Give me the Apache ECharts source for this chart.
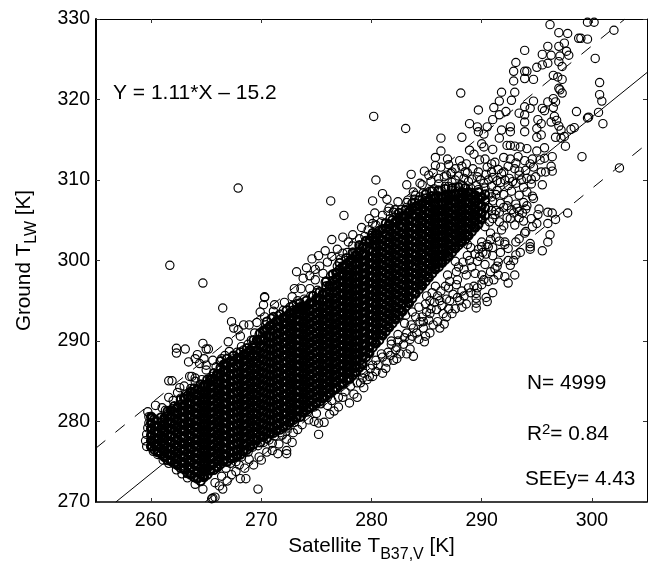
<!DOCTYPE html>
<html>
<head>
<meta charset="utf-8">
<script src="https://cdn.jsdelivr.net/npm/echarts@6/dist/echarts.min.js"></script>
<style>
html,body{margin:0;padding:0;background:#fff;}
#main{width:650px;height:563px;}
</style>
</head>
<body>
<div id="main"></div>
<script>
var xTicks = [260,270,280,290,300];
var yTicks = [270,280,290,300,310,320,330];

// regression line and the two dashed bounds, end points
var fitLine = [[256.8,270],[305,323.35]];
var upperLine = [[255,276.7],[303,330]];
var lowerLine = [[264.9,270],[305,314.5]];

// the solid black core, too dense to read one by one: one list of y per x column
var coreX = [260,260.6,261.2,261.8,262.4,263,263.6,264.2,264.8,265.4,266,266.6,267.2,267.8,268.4,269,269.6,270.2,270.8,271.4,272,272.6,273.2,273.8,274.4,275,275.6,276.2,276.8,277.4,278,278.6,279.2,279.8,280.4,281,281.6,282.2,282.8,283.4,284,284.6,285.2,285.8,286.4,287,287.6,288.2,288.8,289.4,290];
var coreY = [
[276.9,277.6,278.3,279.1,279.8,280.6],
[276.2,277.1,277.8,278.7,279.4],
[275.6,276.3,277.2,277.9,278.8,279.6,280.4],
[275.1,275.9,276.6,277.5,278.2,279.1,279.8,280.7,281.4],
[274.6,275.3,276.2,276.9,277.8,278.5,279.4,280.1,281,281.8],
[274.1,274.9,275.6,276.5,277.2,278.1,278.8,279.7,280.4,281.3,282,282.9],
[273.4,274.2,275.1,275.8,276.7,277.4,278.3,279,279.9,280.6,281.5,282.2,283.1,283.7],
[272.9,273.8,274.5,275.4,276.1,277,277.7,278.6,279.3,280.2,280.9,281.8,282.5,283.4,284],
[273.1,273.8,274.7,275.4,276.3,277,277.9,278.6,279.5,280.2,281.1,281.8,282.7,283.4,284.5],
[273.9,274.6,275.5,276.2,277.1,277.8,278.7,279.4,280.3,281,281.9,282.6,283.5,284.2,285.3],
[274.3,275.2,275.9,276.8,277.5,278.4,279.1,280,280.7,281.6,282.3,283.2,283.9,284.8,285.9],
[275.1,275.8,276.7,277.4,278.3,279,279.9,280.6,281.5,282.2,283.1,283.8,284.7,285.4,286.3,287.1],
[275.4,276.3,277,277.9,278.6,279.5,280.2,281.1,281.8,282.7,283.4,284.3,285,285.9,286.6,287.5],
[275.7,276.4,277.3,278,278.9,279.6,280.5,281.2,282.1,282.8,283.7,284.4,285.3,286,286.9,287.9],
[276.3,277.2,277.9,278.8,279.5,280.4,281.1,282,282.7,283.6,284.3,285.2,285.9,286.8,287.5,288.3],
[276.9,277.6,278.5,279.2,280.1,280.8,281.7,282.4,283.3,284,284.9,285.6,286.5,287.2,288.1,288.9],
[277.7,278.6,279.3,280.2,280.9,281.8,282.5,283.4,284.1,285,285.7,286.6,287.3,288.2,288.9,290.1],
[278.1,278.8,279.7,280.4,281.3,282,282.9,283.6,284.5,285.2,286.1,286.8,287.7,288.4,289.3,290.2,291.3],
[278.5,279.4,280.1,281,281.7,282.6,283.3,284.2,284.9,285.8,286.5,287.4,288.1,289,289.7,290.6,291.9],
[278.9,279.6,280.5,281.2,282.1,282.8,283.7,284.4,285.3,286,286.9,287.6,288.5,289.2,290.1,290.8,291.7,292.5],
[279.3,280.2,280.9,281.8,282.5,283.4,284.1,285,285.7,286.6,287.3,288.2,288.9,289.8,290.5,291.4,292.1,292.9],
[279.9,280.6,281.5,282.2,283.1,283.8,284.7,285.4,286.3,287,287.9,288.6,289.5,290.2,291.1,291.8,292.7,293.5],
[280.5,281.4,282.1,283,283.7,284.6,285.3,286.2,286.9,287.8,288.5,289.4,290.1,291,291.7,292.6,293.3,293.9],
[281.1,281.8,282.7,283.4,284.3,285,285.9,286.6,287.5,288.2,289.1,289.8,290.7,291.4,292.3,293,293.9,294.3],
[281.7,282.6,283.3,284.2,284.9,285.8,286.5,287.4,288.1,289,289.7,290.6,291.3,292.2,292.9,293.8,294.7],
[282.3,283,283.9,284.6,285.5,286.2,287.1,287.8,288.7,289.4,290.3,291,291.9,292.6,293.5,294.2,295.3],
[282.9,283.8,284.5,285.4,286.1,287,287.7,288.6,289.3,290.2,290.9,291.8,292.5,293.4,294.1,295,295.9],
[283.5,284.2,285.1,285.8,286.7,287.4,288.3,289,289.9,290.6,291.5,292.2,293.1,293.8,294.7,295.4,296.9],
[284.1,285,285.7,286.6,287.3,288.2,288.9,289.8,290.5,291.4,292.1,293,293.7,294.6,295.3,296.2,296.9,297.8,298.5],
[284.7,285.4,286.3,287,287.9,288.6,289.5,290.2,291.1,291.8,292.7,293.4,294.3,295,295.9,296.6,297.5,298.2,299.3],
[285.3,286.2,286.9,287.8,288.5,289.4,290.1,291,291.7,292.6,293.3,294.2,294.9,295.8,296.5,297.4,298.1,299,299.9],
[286.1,286.8,287.7,288.4,289.3,290,290.9,291.6,292.5,293.2,294.1,294.8,295.7,296.4,297.3,298,298.9,299.6,300.7],
[287.1,288,288.7,289.6,290.3,291.2,291.9,292.8,293.5,294.4,295.1,296,296.7,297.6,298.3,299.2,299.9,300.8,301.7],
[288.5,289.2,290.1,290.8,291.7,292.4,293.3,294,294.9,295.6,296.5,297.2,298.1,298.8,299.7,300.4,301.3,302.5],
[289.7,290.6,291.3,292.2,292.9,293.8,294.5,295.4,296.1,297,297.7,298.6,299.3,300.2,300.9,301.8,302.5,303.3],
[290.7,291.4,292.3,293,293.9,294.6,295.5,296.2,297.1,297.8,298.7,299.4,300.3,301,301.9,302.6,303.9],
[291.7,292.6,293.3,294.2,294.9,295.8,296.5,297.4,298.1,299,299.7,300.6,301.3,302.2,302.9,303.8,304.5],
[292.7,293.4,294.3,295,295.9,296.6,297.5,298.2,299.1,299.8,300.7,301.4,302.3,303,303.9,304.9],
[293.7,294.6,295.3,296.2,296.9,297.8,298.5,299.4,300.1,301,301.7,302.6,303.3,304.2,305.5],
[294.7,295.4,296.3,297,297.9,298.6,299.5,300.2,301.1,301.8,302.7,303.4,304.3,305,306.1],
[295.9,296.8,297.5,298.4,299.1,300,300.7,301.6,302.3,303.2,303.9,304.8,305.5,306.7],
[296.9,297.6,298.5,299.2,300.1,300.8,301.7,302.4,303.3,304,304.9,305.6,306.5,307.1],
[297.9,298.8,299.5,300.4,301.1,302,302.7,303.6,304.3,305.2,305.9,306.8,307.5],
[298.9,299.6,300.5,301.2,302.1,302.8,303.7,304.4,305.3,306,306.9,307.9],
[299.7,300.6,301.3,302.2,302.9,303.8,304.5,305.4,306.1,307,307.9],
[300.5,301.2,302.1,302.8,303.7,304.4,305.3,306,306.9,307.6,308.1],
[301.5,302.4,303.1,304,304.7,305.6,306.3,307.2,308.3],
[302.3,303,303.9,304.6,305.5,306.2,307.1,307.8,308.5],
[303.1,304,304.7,305.6,306.3,307.2,308.5],
[304.1,304.8,305.7,306.4,307.3,308.1],
[305.1,305.9,306.8,307.9]
];

// second pass through the core, in between the columns above
var coreX2 = [260.3,260.9,261.5,262.1,262.7,263.3,263.9,264.5,265.1,265.7,266.3,266.9,267.5,268.1,268.7,269.3,269.9,270.5,271.1,271.7,272.3,272.9,273.5,274.1,274.7,275.3,275.9,276.5,277.1,277.7,278.3,278.9,279.5,280.1,280.7,281.3,281.9,282.5,283.1,283.7,284.3,284.9,285.5,286.1,286.7,287.3,287.9,288.5,289.1,289.7,290.3];
var coreY2 = [
[276.5,277.3,278,278.8,279.5,280.3],
[276,276.7,277.5,278.3,279.1,279.9,280.5],
[275.2,276,276.8,277.6,278.4,279.2,279.9,280.7,281.3],
[274.8,275.7,276.4,277.2,278,278.9,279.6,280.4,281.2,281.9],
[274.2,275,275.8,276.6,277.4,278.2,279,279.8,280.5,281.3,282.1,282.7],
[273.6,274.5,275.3,276.1,276.9,277.6,278.5,279.3,280,280.9,281.6,282.4,283.2],
[273.1,273.9,274.7,275.5,276.3,277.1,277.9,278.7,279.5,280.3,281.1,281.9,282.7,283.5,284.1],
[272.6,273.4,274.2,275,275.8,276.6,277.4,278.2,279,279.8,280.6,281.4,282.2,283,283.8,284.6],
[273.4,274.2,275,275.8,276.6,277.4,278.2,279,279.8,280.6,281.4,282.2,283,283.8,284.6,285.2],
[274,274.8,275.6,276.4,277.2,278,278.8,279.6,280.4,281.2,282,282.8,283.6,284.4,285.2,286],
[274.7,275.5,276.3,277.1,277.9,278.7,279.5,280.3,281.1,281.9,282.7,283.5,284.3,285.1,285.9,286.7,287.5],
[275,275.8,276.6,277.4,278.2,279,279.8,280.6,281.4,282.2,283,283.8,284.6,285.4,286.2,287,287.8],
[275.5,276.3,277.1,277.9,278.7,279.5,280.3,281.1,281.9,282.7,283.5,284.3,285.1,285.9,286.7,287.5,288.2],
[275.9,276.7,277.5,278.3,279.1,279.9,280.7,281.5,282.3,283.1,283.9,284.7,285.5,286.3,287.1,287.9,288.6],
[276.5,277.3,278.1,278.9,279.7,280.5,281.3,282.1,282.9,283.7,284.5,285.3,286.1,286.9,287.7,288.5,289.1],
[277.2,278,278.8,279.6,280.4,281.2,282,282.8,283.6,284.4,285.2,286,286.8,287.6,288.4,289.2,290.1],
[277.4,278.2,279,279.8,280.6,281.4,282.2,283,283.8,284.6,285.4,286.2,287,287.8,288.6,289.4,290.2,291],
[277.9,278.7,279.5,280.3,281.1,281.9,282.7,283.5,284.3,285.1,285.9,286.7,287.5,288.3,289.1,289.9,290.7,291.5,292.4],
[278.6,279.4,280.2,281,281.8,282.6,283.4,284.2,285,285.8,286.6,287.4,288.2,289,289.8,290.6,291.4,292.2,293],
[279,279.8,280.6,281.4,282.2,283,283.8,284.6,285.4,286.2,287,287.8,288.6,289.4,290.2,291,291.8,292.6,293.3],
[279.5,280.3,281.1,281.9,282.7,283.5,284.3,285.1,285.9,286.7,287.5,288.3,289.1,289.9,290.7,291.5,292.3,293.1,293.8],
[280.2,281,281.8,282.6,283.4,284.2,285,285.8,286.6,287.4,288.2,289,289.8,290.6,291.4,292.2,293,293.8,294.4],
[280.6,281.4,282.2,283,283.8,284.6,285.4,286.2,287,287.8,288.6,289.4,290.2,291,291.8,292.6,293.4,294.2,294.7],
[281.4,282.2,283,283.8,284.6,285.4,286.2,287,287.8,288.6,289.4,290.2,291,291.8,292.6,293.4,294.2,295],
[282,282.8,283.6,284.4,285.2,286,286.8,287.6,288.4,289.2,290,290.8,291.6,292.4,293.2,294,294.8,295.6],
[282.5,283.3,284.1,284.9,285.7,286.5,287.3,288.1,288.9,289.7,290.5,291.3,292.1,292.9,293.7,294.5,295.3,296.1],
[283.2,284,284.8,285.6,286.4,287.2,288,288.8,289.6,290.4,291.2,292,292.8,293.6,294.4,295.2,296,296.8,297.4],
[283.9,284.7,285.5,286.3,287.1,287.9,288.7,289.5,290.3,291.1,291.9,292.7,293.5,294.3,295.1,295.9,296.7,297.5,298.3],
[284.5,285.3,286.1,286.9,287.7,288.5,289.3,290.1,290.9,291.7,292.5,293.3,294.1,294.9,295.7,296.5,297.3,298.1,298.9,299.7],
[285.1,285.9,286.7,287.5,288.3,289.1,289.9,290.7,291.5,292.3,293.1,293.9,294.7,295.5,296.3,297.1,297.9,298.7,299.5,300.3],
[285.8,286.6,287.4,288.2,289,289.8,290.6,291.4,292.2,293,293.8,294.6,295.4,296.2,297,297.8,298.6,299.4,300.2,301],
[286.7,287.5,288.3,289.1,289.9,290.7,291.5,292.3,293.1,293.9,294.7,295.5,296.3,297.1,297.9,298.7,299.5,300.3,301.1,301.9],
[288,288.8,289.6,290.4,291.2,292,292.8,293.6,294.4,295.2,296,296.8,297.6,298.4,299.2,300,300.8,301.6,302.4],
[289.2,290,290.8,291.6,292.4,293.2,294,294.8,295.6,296.4,297.2,298,298.8,299.6,300.4,301.2,302,302.8,303.4],
[290.1,290.9,291.7,292.5,293.3,294.1,294.9,295.7,296.5,297.3,298.1,298.9,299.7,300.5,301.3,302.1,302.9,303.7],
[291.2,292,292.8,293.6,294.4,295.2,296,296.8,297.6,298.4,299.2,300,300.8,301.6,302.4,303.2,304,304.6],
[292.2,293,293.8,294.6,295.4,296.2,297,297.8,298.6,299.4,300.2,301,301.8,302.6,303.4,304.2,305],
[293.2,294,294.8,295.6,296.4,297.2,298,298.8,299.6,300.4,301.2,302,302.8,303.6,304.4,305.2,305.9],
[294.3,295.1,295.9,296.7,297.5,298.3,299.1,299.9,300.7,301.5,302.3,303.1,303.9,304.7,305.5,306.3],
[295.3,296.1,296.9,297.7,298.5,299.3,300.1,300.9,301.7,302.5,303.3,304.1,304.9,305.7,306.5,307.1],
[296.4,297.2,298,298.8,299.6,300.4,301.2,302,302.8,303.6,304.4,305.2,306,306.8,307.5],
[297.4,298.2,299,299.8,300.6,301.4,302.2,303,303.8,304.6,305.4,306.2,307,307.7,308.2],
[298.4,299.2,300,300.8,301.6,302.4,303.2,304,304.8,305.6,306.4,307.2,308,308.6],
[299.2,300,300.8,301.6,302.4,303.2,304,304.8,305.6,306.4,307.2,308,308.7],
[300.1,300.9,301.7,302.5,303.3,304.1,304.9,305.7,306.5,307.3,308.1,308.9],
[301,301.8,302.6,303.4,304.2,305,305.8,306.6,307.4,308.2,309],
[301.9,302.7,303.5,304.3,305.1,305.9,306.7,307.5,308.3,309.1],
[302.6,303.4,304.2,305,305.8,306.6,307.4,308.2,309],
[303.6,304.4,305.2,306,306.8,307.6,308.4],
[304.5,305.3,306.1,306.9,307.7,308.5],
[305.6,306.5,307.4,308.2]
];

// single circles readable around the core
var ringPoints = [
[267.9,309],[280.2,317.9],[283.1,316.4],[261.7,299.4],[264.7,297.2],[266.5,294.1],[302.5,311.5],[299.1,312.9],
[296.2,329.3],[297,328.3],[297.8,328.2],[299.6,329.6],[300.2,329.6],[302,328.6],[298.8,327.6],[299,327.6],[299.6,327.5],
[293.9,326.1],[296,326.6],[297,326.6],[295.5,325.6],[296.3,325.5],[297.1,325.4],[297.7,326],[297.9,325.5],[297.5,327],[300.3,325.1],
[293.1,324.6],[292.9,323.5],[293.9,323.5],[294.1,323.5],[295,324],[295.5,324.3],[296,324.5],[297,324.7],[297.3,324.1],
[292.9,322.3],[293.9,322.6],[294.7,322.5],[296.5,323],[296.9,322.8],[297.3,322.5],[300.7,322.1],[297,321.4],[297.1,321.2],[297.3,320.8],
[291.8,320.9],[293,320.9],[288.1,320.8],[300.7,320.6],[300.9,319.8],[291.6,319.8],[292.7,319.9],[294.7,319.8],[296,319.7],[296.5,320.1],[296.7,319.7],
[298.6,318.5],[300.6,318.4],[299.6,317.7],[299.7,317.8],[301,317],[291.1,319],[289.7,318.7],[292.2,318.5],[291.6,318.1],[291,317.5],
[293.4,318.3],[293.9,319.1],[294.4,318.9],[293.9,318.1],[293.9,317.2],[295.5,318.9],[295.7,318.6],[296.5,319],[296.6,317.9],[296.3,317.2],[296.8,317.4],
[295.1,317.5],[295.4,317],[295,316.4],[295.4,315.6],[297,316.7],[297.2,316.2],[298.1,316.3],[298.4,316.5],[297.5,315.4],[297.2,315.2],[296.7,315.3],[297.6,314.2],
[288.9,317],[289.6,316.6],[289.7,316],[290.5,316.6],[290.2,315.7],[291.8,316.2],[292.6,316.6],[292.6,316],[293.9,316],[295,315.3],[288.2,315.3],[286.3,315.2],[291.6,315.2],
[290,314.5],[290.2,314.1],[286.3,313.6],[288.9,313.7],[289.3,313.2],[291,313.8],[292.3,314.3],[292.6,314.3],[293,314.2],[293.5,314.1],[294.1,313.9],[295,313.6],[295.7,314],[296.4,312.9],
[285.8,312.8],[286.9,312.6],[288,312.4],[289.8,312.5],[290.3,312.6],[291.2,312.2],[292,312.8],[292.6,312.6],[293.3,312.9],[293.9,312.4],[294.6,312.6],[295.3,312.5],[295.7,312.7],
[285.8,311.8],[286.3,311.6],[287,311.9],[287.6,311.4],[288.2,311.7],[289.2,311.4],[290.5,311.6],[291.5,311.3],[292.4,311.7],[293,311.4],[294,311.2],[294.7,311.6],[295.4,311],[295.8,311],[296.4,311.1],[296.3,311.7],
[285.6,310.9],[284.8,311.1],[285.2,310.6],[286.6,310.4],[287.2,310.8],[287.9,310.5],[288.7,310.9],[289.6,310.4],[290.4,310.7],[291,310.3],[291.8,310.8],[292.5,310.2],[293.4,310.6],[294.1,310.2],[294.9,310.4],
[283.6,310.7],[280.4,310],[283.2,309.4],[284.4,309.6],[284.6,309.4],[285.4,309.8],[286.1,309.5],[286.7,309.2],[287.3,309.7],[288.1,309.4],[288.8,309.8],[289.5,309.3],[290.2,309.6],[290.9,309.2],[291.7,309.7],[292.4,309.3],[293.1,309.6],[293.8,309.1],[294.5,309.5],[295.5,309.4],
[281,308.3],[283.8,308.5],[284,308.1],[284.7,308.4],[285.3,308.6],[290.7,308.4],[291.4,308.7],[292,308.2],[292.7,308.6],[293.4,308.1],[294.1,308.5],[294.6,308],
[276.3,307.4],[280.1,307.4],[281.4,307.6],[282.4,307.3],[283.3,307.5],[283.9,307.2],[291,307.4],[291.7,307.1],[292.4,307.5],[293.1,307],[293.8,307.2],[294.7,307.7],[294.1,306.8],
[277.5,305.6],[279.8,305.2],[280.3,305.9],[281.6,306.5],[282.1,306.3],[282.7,306.3],[283.2,306.6],[281,305.6],[281.7,305.2],[282.3,305.7],[290.6,306.6],[291.3,306.2],[292,306.6],[292.7,306.3],[293.4,306.1],[294,306.4],[293.7,305.9],
[295.2,306.4],[296,306],[296.4,305.9],[296.7,305.1],[297.8,305.9],[291,305.2],[291.6,304.8],[292.3,305.3],[292,304.3],
[279.7,303.8],[280.4,304.4],[280,303.1],[279.1,304.1],[278.3,303.2],[278.9,302.7],[279.5,302.5],[280.4,302.9],
[276.4,302.6],[277.4,302.9],[277.9,302.3],[278.3,301.8],[276.9,301.4],[277.4,300.9],[276.4,300.5],[275.8,301.2],[275.2,300.6],[276,299.8],[275.3,299.3],[274.6,300.2],[274.9,298.9],[274.1,299.1],[274.4,298.1],[275.6,298.4],[274.9,297.6],[273.8,297.8],[273.2,298.6],
[273,296.5],[273.6,296.5],[274.4,296.5],[272.8,295.5],[273.3,295],[271.2,294.5],[272.1,294.8],[270.3,295.5],[270.3,295.4],[270.2,294.5],[269.9,293.6],[270.3,293],[271.1,293.7],[269.6,292.3],
[262.3,289.1],[262.3,288.5],[263.1,289],[264.7,289.7],[265,289],[265.2,289],[267,289.9],[267.1,288.7],[268.2,289.3],[268.4,288.9],[267.3,292.4],[267.5,291.6],[268.4,292],[268.9,292],[267.9,291.4],[268.1,290.6],[269.1,290.1],[269.4,291],
[261.6,285.05],[261.9,285.05],[262.6,284.2],[263.5,285.6],[263.7,285.6],[264,285.4],[264,285],[263.4,287.4],[264,287.8],[264.4,287.2],[264.8,287.8],[265,287],[265.6,287.6],[265,286.4],[265.5,285.6],[265.9,286.8],[266.4,287.8],[266.7,288.2],[264.2,288.3],
[261.6,283],[262,282.6],[262.7,282.9],[263.2,283.4],[263.6,284.1],[260.4,282],[261,281.7],[259.7,281.2],[259.8,280.6],[259.8,279.8],[259.7,279.2],[259.6,278.4],[259.5,277.6],[259.6,276.9],[260.2,276.3],[260.6,275.9],
[261.1,275.2],[261.6,274.8],[262.3,274],[262.8,273.5],[263.3,273],[264,272.2],[264.7,271.6],[265.6,270.5],[265.8,270.6],[265.5,270.4],[266.5,271.6],[266.2,272],[265.8,272.4],[266.9,272.6],[266.4,273.2],[267.3,273.4],[268.1,272.9],[268.6,272.9],[267.7,273.8],[269.7,271.6],
[268,274.6],[268.5,274.2],[268.9,275.3],[269.3,274.6],[269.8,275.6],[270,275.2],[270.5,276.2],[271,276.4],[271.5,276],[271,277.3],[271.6,277.2],[272.3,276],[272.3,276.4],[272.8,277.4],[272.3,277.8],[271.9,278.3],[272.9,278.6],[273.3,279],[273.7,279.6],[274.3,280.2],[274.8,280],[275.2,278.4],[275.2,279.8],[275.7,279.9],[275,281],[276.2,280.9],[276.6,281.3],[277,281.8],[276,282],[277.4,283],[278,282.3],[278.7,283],[278.4,283.4],
[279.3,284.2],[279,284.8],[279.6,285.2],[280.1,285.6],[279.8,285.6],[280.4,286.2],[281.3,286.6],[281,286],[280.6,287],[281.4,287.4],[280.1,287],[279.3,286],[282.3,287.8],[282,287.6],[282.6,288.4],[283.8,288.1],[283.2,288.4],[283.5,289],[282.3,289.2],[281.5,288.6],[280.9,288.4],
[284.8,289.9],[284.3,290.2],[283.7,290.6],[284.9,290.6],[283,290.4],[282.4,290.8],[281.8,290],[285.3,291],[284.7,291.6],[286.6,292.1],[286,292.4],[285.6,292],[286.2,291.6],[285.2,292.6],[284.4,292.4],[283.6,292],[283,292.2],[284,293],[285,293.6],
[289.5,294.1],[289.5,294.7],[289.5,295.3],[289.5,295.9],[290.5,294.9],[290.4,295.4],[291,296],[288.6,294.6],[288.2,294.2],[288,295],[287.3,293.4],[287,294],[287.6,294],[286.8,293],[286.4,294.4],[285.7,294.8],[285.3,295],[285,295.6],[286,295.6],[286.8,295.2],[287.4,295.8],[288.2,296.2],[288.8,296.6],[287.7,297],[286.7,296.8],[285.8,296.8],
[289.3,296.8],[290,297],[290.6,297.4],[291.1,297.6],[291.5,298.2],[292.4,297.2],[292.1,298],[290,298.2],[289.4,298.4],[288.6,298.2],[287.7,298.6],[286.9,298.2],[291.2,299],[291.5,299.8],[292.6,299.4],[293,298.2],[292.4,300],[293.1,300.7],[291,300.6],[290.3,299.5],[289.6,299.9],[288.9,300],[288.3,299.8],[287.6,299.9],
[290.1,301],[290.6,301.7],[289.7,301.4],[289,301.6],[288.7,302],[291.3,302.9],[290.5,302],[290,302.3],[292.1,302.3],[292.1,302],[293.1,302.3],[293.5,301],[294.4,302.1],[294.4,301.7],[294.4,301.4],[295.5,301.2],[296,302.3],[296.2,303.2],
[294,303.6],[293.9,303.4],[295,304.6],[294.6,304.2],[296,304.6],[293.4,302.7],[291.8,303.8],[290.8,303.4],[290.3,304.2],[290.7,304.8],[293,304.4],
// fringe above the core
[275.1,296.3],[275.8,297.3],[276.3,298.1],[276.9,299.3],[277.2,300.2],[277.8,301],[278.4,300.9],[278.9,301.6],[279.4,303],[280.1,304.6],[280.9,304.8],[281.5,306.1],[282,306],[282.6,305.4],[283.2,307.2],[283.9,307.6],[284.4,307.9],[285,308.4],[285.7,308.9],[286.3,308.7],[287,309.2],[287.6,309.1],[288.3,309.3],[289,309],[289.7,308.8],[290.3,309],[290.9,307.9],[291.3,308.2],
[286.1,310.2],[286.8,310.6],[287.6,310],[288.4,310.2],[289.1,310.1],[289.9,310],[290.6,310],[291.4,309.9],[292.1,310],[292.8,309.8],[293.6,310],[294.5,310.1],[287.3,311],[288.5,311],[289.7,311],[290.9,311],[292,311],[293.4,311.1],[288.6,312],[290.9,312],[293.1,312.1],[294.4,312],
[291.6,306],[292.3,306.8],[292.9,305.9],[293.2,306.5],[291.2,305.7],[290.9,306.2],[292.6,305.2],[293.4,305.3],[293.8,304.9],[294.5,305.2],[295.1,305.7],
[265.9,285.6],[266.3,286.4],[266.9,287.2],[267.4,288.1],[267.8,288.6],[268.3,288.2],[268.8,289.6],[269.2,289.4],[269.8,290.8],[270.4,292],[270.9,292.8],[271.5,293.1],[272,293.8],[272.6,294.2],[273.2,294.6],[273.9,295.2],[274.5,295.6],[275,296],[265.2,284.8],[264.6,285.2],[263,284.4],[262.4,283.6],[261.3,281.4],[266,285],[267.2,286.6],
// fringe below the core
[276.4,282.6],[277,283],[277.6,283.7],[278.1,284.4],[278.7,284.8],[279.2,285.4],[279.9,286.6],[280.4,287.6],[281,288],[281.7,288.2],[282.2,288.9],[282.9,289.6],[283.5,290.2],[284.1,291],[284.7,292.4],[285.3,293.4],[285.9,293.9],[286.5,293.4],[287.1,295],[287.8,295.4],[288.4,295.6],[289,296],[289.6,296.6],[290.2,297.6],[290.8,298.6],[291.4,299.3],
[281.8,289.6],[282.4,290],[283.2,291],[283.8,291.6],[284.6,293],[285.4,294],[286.2,295],[287,296.6],[287.8,297.6],[288.4,298.9],[289.1,299.2],[289.8,300.5],[290.4,300.8],[291,301.6],[291.7,301],[292.4,301.5],[292.9,300],
[283.1,293.2],[283.7,293.6],[284.3,294.2],[284.9,294.6],[285.5,296],[286.3,296.2],[287.1,297.4],[287.9,299.2],[288.7,300.6],[289.4,300.8],[290,301.7],[290.8,302.6],[291.6,302.4],
[266.8,274.2],[267.2,274.8],[267.7,275],[268.2,275.6],[268.8,276.2],[269.2,276.8],[269.7,277],[270.2,277.4],[270.7,277.7],[271.2,278.2],[271.7,278.6],[272.4,279.2],[273,279.9],[273.6,280.6],[274.2,281.2],[274.8,281.8],[275.4,282.2],[276,283]
];

var option = {
    animation: false,
    backgroundColor: '#fff',
    textStyle: { fontFamily: 'Liberation Sans' },
    grid: { left: 96, right: 3, top: 19, bottom: 61, outerBoundsMode: 'none' },
    xAxis: [{
        type: 'value', min: 255, max: 305, splitLine: { show: false },
        name: '{a|Satellite T}{s|B37,V}{a| [K]}',
        nameLocation: 'middle', nameGap: 28,
        nameTextStyle: { rich: {
            a: { fontSize: 20.7, color: '#000', fontFamily: 'Liberation Sans' },
            s: { fontSize: 16, color: '#000', fontFamily: 'Liberation Sans', padding: [16,0,0,0] }
        } },
        axisLine: { onZero: false, lineStyle: { color: '#000', width: 1.5 } },
        axisTick: { inside: true, length: 4, customValues: xTicks, lineStyle: { color: '#333' } },
        axisLabel: { customValues: xTicks, fontSize: 19.5, color: '#000', margin: 9 }
    }, {
        type: 'value', position: 'top', min: 255, max: 305, splitLine: { show: false },
        axisLine: { onZero: false, lineStyle: { color: '#000', width: 1 } },
        axisTick: { inside: true, length: 4, customValues: xTicks, lineStyle: { color: '#333' } },
        axisLabel: { show: false }
    }],
    yAxis: [{
        type: 'value', min: 270, max: 330, interval: 10, splitLine: { show: false },
        name: '{a|Ground T}{s|LW}{a| [K]}',
        nameLocation: 'middle', nameGap: 56,
        nameTextStyle: { rich: {
            a: { fontSize: 20.7, color: '#000', fontFamily: 'Liberation Sans' },
            s: { fontSize: 16, color: '#000', fontFamily: 'Liberation Sans', padding: [16,0,0,0] }
        } },
        axisLine: { onZero: false, lineStyle: { color: '#000', width: 2 } },
        axisTick: { inside: true, length: 4, lineStyle: { color: '#333' } },
        axisLabel: { fontSize: 19.5, color: '#000', margin: 6 }
    }, {
        type: 'value', position: 'right', min: 270, max: 330, interval: 10, splitLine: { show: false },
        axisLine: { onZero: false, lineStyle: { color: '#000', width: 1 } },
        axisTick: { inside: true, length: 4, lineStyle: { color: '#333' } },
        axisLabel: { show: false }
    }],
    series: [],
    graphic: [
        { type: 'text', left: 113, top: 83, style: { text: 'Y = 1.11*X \u2013 15.2', font: '21px "Liberation Sans"', fill: '#000' } },
        { type: 'text', left: 527, top: 373, style: { text: 'N= 4999', font: '20.8px "Liberation Sans"', fill: '#000' } },
        { type: 'text', left: 527, top: 422, style: {
            text: 'R{u|2}= 0.84', font: '20.8px "Liberation Sans"', fill: '#000',
            rich: { u: { fontSize: 15, fontFamily: 'Liberation Sans', padding: [0,0,9,0] } }
        } },
        { type: 'text', left: 525, top: 469, style: { text: 'SEEy= 4.43', font: '20.8px "Liberation Sans"', fill: '#000' } }
    ]
};

function columnsToPoints(xs, ys) {
    var points = [];
    for (var i = 0; i < xs.length; i++) {
        for (var j = 0; j < ys[i].length; j++) {
            points.push([xs[i], ys[i][j]]);
        }
    }
    return points;
}

function circles(data, size, width) {
    return {
        type: 'scatter', data: data, symbol: 'circle', symbolSize: size, silent: true,
        itemStyle: { color: 'transparent', borderColor: '#000', borderWidth: width, opacity: 1 }
    };
}
function line(data, dash) {
    return {
        type: 'line', data: data, symbol: 'none', silent: true,
        lineStyle: { color: '#000', width: 1, type: dash }
    };
}
option.series.push(line(fitLine, 'solid'));
option.series.push(line(upperLine, [12,13]));
option.series.push(line(lowerLine, [12,13]));
option.series.push(circles(columnsToPoints(coreX, coreY), 7.2, 3.2));
option.series.push(circles(columnsToPoints(coreX2, coreY2), 8.3, 2));
option.series.push(circles(ringPoints, 8.3, 1.15));

var myChart = echarts.init(document.getElementById('main'));
myChart.setOption(option);
</script>
</body>
</html>
